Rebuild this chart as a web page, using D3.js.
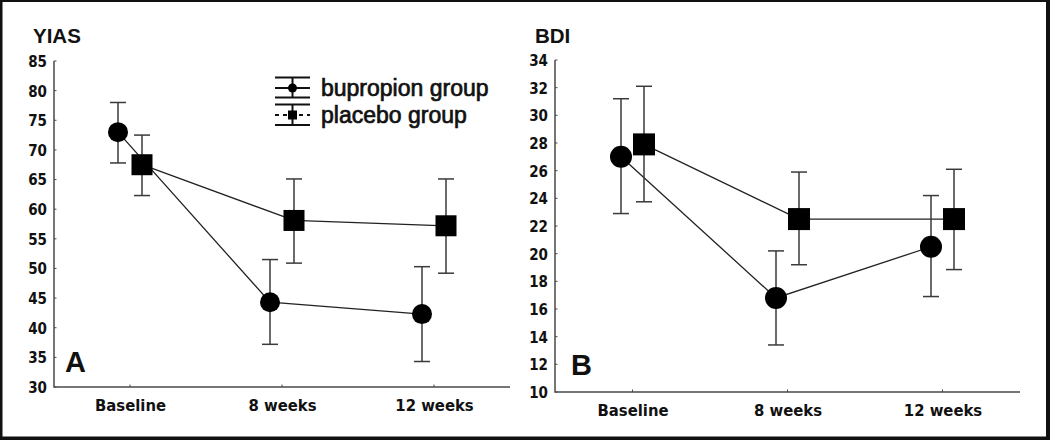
<!DOCTYPE html>
<html>
<head>
<meta charset="utf-8">
<script src="https://cdn.jsdelivr.net/npm/d3@7/dist/d3.min.js"></script>
<style>
  html, body { margin: 0; padding: 0; background: #fff; }
  svg { display: block; }
  .tick-lbl { font-family: "DejaVu Sans", sans-serif; font-stretch: condensed; font-weight: bold; }
</style>
</head>
<body>
<svg id="chart" width="1050" height="440"></svg>
<script>
// ---------------- data ----------------
const categories = ["Baseline", "8 weeks", "12 weeks"];

const yiasTicks = [30, 35, 40, 45, 50, 55, 60, 65, 70, 75, 80, 85];
const yiasBupropion   = [73.0, 44.3, 42.3];
const yiasBupropionLo = [67.8, 37.2, 34.3];
const yiasBupropionHi = [78.0, 51.5, 50.3];
const yiasPlacebo     = [67.5, 58.1, 57.2];
const yiasPlaceboLo   = [62.3, 50.9, 49.2];
const yiasPlaceboHi   = [72.5, 65.1, 65.1];

const bdiTicks = [10, 12, 14, 16, 18, 20, 22, 24, 26, 28, 30, 32, 34];
const bdiBupropion   = [27.0, 16.8, 20.5];
const bdiBupropionLo = [22.9, 13.4, 16.9];
const bdiBupropionHi = [31.2, 20.2, 24.2];
const bdiPlacebo     = [27.9, 22.5, 22.5];
const bdiPlaceboLo   = [23.75, 19.2, 18.85];
const bdiPlaceboHi   = [32.1, 25.9, 26.1];

const seriesNames = ["bupropion group", "placebo group"];

// ---------------- drawing ----------------
const svg = d3.select("#chart");

// frame
svg.append("rect").attr("x", 0).attr("y", 0).attr("width", 1050).attr("height", 440).attr("fill", "#111");
svg.append("rect").attr("x", 2.5).attr("y", 2).attr("width", 1043.5).attr("height", 434.5).attr("fill", "#fff");

const AXIS = "#4a4a4a";

function panel(cfg) {
  const g = svg.append("g");
  const x = d3.scalePoint().domain(categories).range([cfg.x0, cfg.x1]).padding(0.5);
  const y = d3.scaleLinear().domain([cfg.ticks[0], cfg.ticks[cfg.ticks.length - 1]]).range([cfg.yb, cfg.yt]);

  // y axis
  const ya = g.append("g").attr("transform", `translate(${cfg.x0},0)`)
    .call(d3.axisLeft(y).tickValues(cfg.ticks).tickSize(0).tickPadding(7).tickFormat(d3.format("d")));
  ya.select(".domain").remove();
  ya.selectAll("text").attr("class", "tick-lbl").attr("font-size", 15).attr("fill", "#111").attr("dy", "0.36em");
  g.selectAll(".yt").data(cfg.ticks).join("line")
    .attr("x1", cfg.x0).attr("x2", cfg.x0 + 2.5)
    .attr("y1", d => y(d)).attr("y2", d => y(d))
    .attr("stroke", AXIS).attr("stroke-width", 1);

  // x axis
  const xa = g.append("g").attr("transform", `translate(0,${cfg.yb})`)
    .call(d3.axisBottom(x).tickSize(0).tickPadding(12));
  xa.select(".domain").remove();
  xa.selectAll("text").attr("class", "tick-lbl").attr("font-size", 16.5).attr("fill", "#111");
  g.selectAll(".xt").data(categories).join("line")
    .attr("x1", d => x(d)).attr("x2", d => x(d))
    .attr("y1", cfg.yb).attr("y2", cfg.yb - 2.5)
    .attr("stroke", AXIS).attr("stroke-width", 1);

  // axis lines
  g.append("path")
    .attr("d", `M${cfg.x0},${y(cfg.ticks[cfg.ticks.length - 1])}V${cfg.yb}H${cfg.x1}`)
    .attr("fill", "none").attr("stroke", AXIS).attr("stroke-width", 1.5);

  // title and panel letter
  g.append("text").attr("x", cfg.titleX).attr("y", 43).text(cfg.title)
    .attr("font-family", "Liberation Sans, Arial, sans-serif").attr("font-weight", "bold")
    .attr("font-size", 20.5).attr("fill", "#111");
  g.append("text").attr("x", cfg.letterX).attr("y", cfg.letterY).text(cfg.letter)
    .attr("font-family", "Liberation Sans, Arial, sans-serif").attr("font-weight", "bold")
    .attr("font-size", 29).attr("fill", "#111");

  const off = cfg.off;
  const series = [
    { v: cfg.bup, lo: cfg.bupLo, hi: cfg.bupHi, dx: -off, shape: "circle" },
    { v: cfg.pla, lo: cfg.plaLo, hi: cfg.plaHi, dx: off, shape: "square" }
  ];

  // connecting lines
  series.forEach(s => {
    const line = d3.line().x((d, i) => x(categories[i]) + s.dx).y(d => y(d));
    g.append("path").attr("d", line(s.v)).attr("fill", "none")
      .attr("stroke", "#222").attr("stroke-width", 1.3);
  });

  // error bars
  const cap = 8;
  series.forEach(s => {
    const eb = g.append("g").attr("stroke", "#3a3a3a").attr("stroke-width", 1.5);
    categories.forEach((c, i) => {
      const cx = x(c) + s.dx;
      eb.append("line").attr("x1", cx).attr("x2", cx).attr("y1", y(s.lo[i])).attr("y2", y(s.hi[i]));
      eb.append("line").attr("x1", cx - cap).attr("x2", cx + cap).attr("y1", y(s.lo[i])).attr("y2", y(s.lo[i]));
      eb.append("line").attr("x1", cx - cap).attr("x2", cx + cap).attr("y1", y(s.hi[i])).attr("y2", y(s.hi[i]));
    });
  });

  // markers
  series.forEach(s => {
    categories.forEach((c, i) => {
      const cx = x(c) + s.dx, cy = y(s.v[i]);
      if (s.shape === "circle") {
        g.append("circle").attr("cx", cx).attr("cy", cy).attr("r", cfg.r).attr("fill", "#000");
      } else {
        g.append("rect").attr("x", cx - cfg.sq / 2).attr("y", cy - cfg.sq / 2)
          .attr("width", cfg.sq).attr("height", cfg.sq).attr("fill", "#000");
      }
    });
  });
}

panel({
  x0: 54, x1: 510, yt: 61, yb: 387, ticks: yiasTicks, off: 12, r: 10, sq: 21,
  title: "YIAS", titleX: 33, letter: "A", letterX: 65, letterY: 372,
  bup: yiasBupropion, bupLo: yiasBupropionLo, bupHi: yiasBupropionHi,
  pla: yiasPlacebo, plaLo: yiasPlaceboLo, plaHi: yiasPlaceboHi
});

panel({
  x0: 555, x1: 1020, yt: 60, yb: 392, ticks: bdiTicks, off: 11.5, r: 11, sq: 22,
  title: "BDI", titleX: 535, letter: "B", letterX: 571, letterY: 375,
  bup: bdiBupropion, bupLo: bdiBupropionLo, bupHi: bdiBupropionHi,
  pla: bdiPlacebo, plaLo: bdiPlaceboLo, plaHi: bdiPlaceboHi
});

// ---------------- legend ----------------
const lg = svg.append("g").attr("stroke", "#111").attr("stroke-width", 2);
const lx0 = 275, lx1 = 310, lcx = 292.5;
const rows = [
  { top: 77.5, mid: 88, bot: 97.5, dash: null, shape: "circle" },
  { top: 104.5, mid: 115, bot: 125, dash: "4,4", shape: "square" }
];
rows.forEach((r, i) => {
  lg.append("line").attr("x1", lx0).attr("x2", lx1).attr("y1", r.top).attr("y2", r.top);
  lg.append("line").attr("x1", lx0).attr("x2", lx1).attr("y1", r.bot).attr("y2", r.bot);
  lg.append("line").attr("x1", lcx).attr("x2", lcx).attr("y1", r.top).attr("y2", r.bot);
  const ml = lg.append("line").attr("x1", lx0).attr("x2", lx1).attr("y1", r.mid).attr("y2", r.mid);
  if (r.dash) ml.attr("stroke-dasharray", r.dash).attr("stroke-dashoffset", 0);
  if (r.shape === "circle") {
    lg.append("circle").attr("cx", lcx).attr("cy", r.mid).attr("r", 4.5).attr("fill", "#000").attr("stroke", "none");
  } else {
    lg.append("rect").attr("x", lcx - 4.5).attr("y", r.mid - 4.5).attr("width", 9).attr("height", 9).attr("fill", "#000").attr("stroke", "none");
  }
  svg.append("text").attr("x", 321).attr("y", r.mid + 8).text(seriesNames[i])
    .attr("font-family", "Liberation Sans, Arial, sans-serif").attr("font-size", 23)
    .attr("fill", "#111").attr("stroke", "#111").attr("stroke-width", 0.7);
});
</script>
</body>
</html>
